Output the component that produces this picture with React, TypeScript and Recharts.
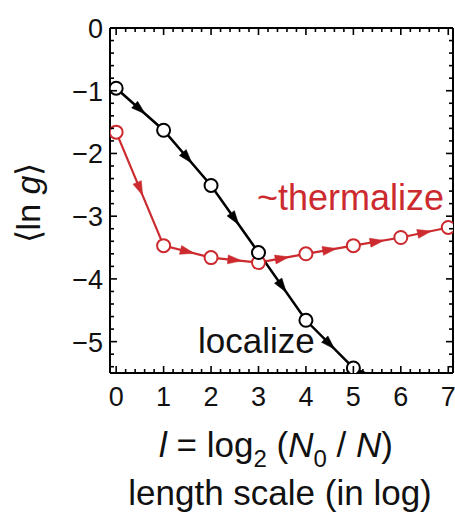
import React from 'react';
import { ComposedChart, Line, Scatter, XAxis, YAxis } from 'recharts';

// length scale l = log2(N0/N)
const steps = [0, 1, 2, 3, 4, 5, 6, 7];
// <ln g> along the flow
const localizeVals = [-0.96, -1.63, -2.51, -3.58, -4.66, -5.42, -5.75];
const thermalizeVals = [-1.66, -3.47, -3.66, -3.74, -3.6, -3.47, -3.34, -3.18];

const xMajor = [0, 1, 2, 3, 4, 5, 6, 7];
const yMajor = [0, -1, -2, -3, -4, -5];

const X_DOMAIN: [number, number] = [-0.13, 7.1];
const Y_DOMAIN: [number, number] = [-5.5, 0];

const W = 455;
const H = 516;
const MARGIN = { top: 0, right: 0, left: 0, bottom: 0 };
const Y_AXIS_W = 110;
const X_AXIS_H = 143;
const TOP_H = 28;
const RIGHT_W = 2;

const RED = '#cc2a2e';
const FONT = '"Liberation Sans", Arial, Helvetica, sans-serif';

// px per data unit, used only to turn the arrowheads along their segments
const KX = (W - Y_AXIS_W - RIGHT_W) / (X_DOMAIN[1] - X_DOMAIN[0]);
const KY = (H - TOP_H - X_AXIS_H) / (Y_DOMAIN[1] - Y_DOMAIN[0]);

const withMinors = (major: number[], lo: number, hi: number) => {
  const out = [...major];
  for (let v = lo; v <= hi + 1e-9; v += 0.2) {
    const r = Math.round(v * 10) / 10;
    if (Math.abs(r - Math.round(r)) > 1e-6) out.push(r);
  }
  return out.sort((a, b) => a - b);
};
const xTicks = withMinors(xMajor, 0, 7);
const yTicks = withMinors(yMajor, -5.4, 0);

const series = (vals: number[]) => vals.map((v, i) => ({ x: steps[i], y: v }));
const localizeData = series(localizeVals);
const thermalizeData = series(thermalizeVals);

const arrowsFor = (vals: number[]) =>
  vals.slice(0, -1)
    .map((v, i) => ({
      x: (steps[i] + steps[i + 1]) / 2,
      y: (v + vals[i + 1]) / 2,
      dx: steps[i + 1] - steps[i],
      dy: vals[i + 1] - v,
    }))
    .filter((a) => a.y >= Y_DOMAIN[0] && a.y <= Y_DOMAIN[1]);

const localizeArrows = arrowsFor(localizeVals);
const thermalizeArrows = arrowsFor(thermalizeVals);

const isMajor = (v: number) => Math.abs(v - Math.round(v)) < 1e-6;

const fmt = (v: number) => (v < 0 ? '\u2212' + Math.abs(v) : String(v));

const FrameTick = (props: any) => {
  const { x, y, payload, side } = props;
  const v = payload.value;
  const major = isMajor(v);
  const len = major ? 7 : 4;
  let d = '';
  let label = null;
  if (side === 'bottom') {
    d = `M${x},${y}V${y - len}`;
    if (major)
      label = (
        <text x={x} y={y + 33} textAnchor="middle" fontSize={27} fontFamily={FONT} fill="#111">
          {fmt(v)}
        </text>
      );
  } else if (side === 'top') {
    d = `M${x},${y}V${y + len}`;
  } else if (side === 'left') {
    d = `M${x},${y}H${x + len}`;
    if (major)
      label = (
        <text x={x - 7} y={y + 10} textAnchor="end" fontSize={27} fontFamily={FONT} fill="#111">
          {fmt(v)}
        </text>
      );
  } else {
    d = `M${x},${y}H${x - len}`;
  }
  return (
    <g>
      <path d={d} stroke="#000" strokeWidth={1.6} fill="none" />
      {label}
    </g>
  );
};

const makeArrow = (color: string) => (props: any) => {
  const { cx, cy, payload } = props;
  if (cx == null || cy == null) return <g />;
  const ang = (Math.atan2(-payload.dy * KY, payload.dx * KX) * 180) / Math.PI;
  return (
    <polygon
      points="7,0 -7,-4.5 -7,4.5"
      fill={color}
      stroke={color}
      strokeWidth={0.5}
      transform={`translate(${cx},${cy}) rotate(${ang})`}
    />
  );
};

const openDot = (color: string) => ({ r: 6.5, fill: '#fff', stroke: color, strokeWidth: 2 });

const axisCommon = {
  type: 'number' as const,
  allowDataOverflow: true,
  interval: 0 as const,
  tickSize: 0,
  tickMargin: 0,
  tickLine: false,
  axisLine: { stroke: '#000', strokeWidth: 2 },
};

export default function App() {
  return (
    <div style={{ position: 'absolute', left: 0, top: 0, width: W, height: H, background: '#fff' }}>
      <ComposedChart width={W} height={H} margin={MARGIN}>
        <XAxis
          {...axisCommon}
          xAxisId="b"
          dataKey="x"
          domain={X_DOMAIN}
          ticks={xTicks}
          height={X_AXIS_H}
          tick={<FrameTick side="bottom" />}
        />
        <XAxis
          {...axisCommon}
          xAxisId="t"
          dataKey="x"
          orientation="top"
          domain={X_DOMAIN}
          ticks={xTicks}
          height={TOP_H}
          tick={<FrameTick side="top" />}
        />
        <YAxis
          {...axisCommon}
          yAxisId="l"
          domain={Y_DOMAIN}
          ticks={yTicks}
          width={Y_AXIS_W}
          tick={<FrameTick side="left" />}
        />
        <YAxis
          {...axisCommon}
          yAxisId="r"
          orientation="right"
          domain={Y_DOMAIN}
          ticks={yTicks}
          width={RIGHT_W}
          tick={<FrameTick side="right" />}
        />

        {/* thermalizing flow: drawn on the top/right frame axes (same scales) */}
        <Line
          xAxisId="t"
          yAxisId="r"
          data={thermalizeData}
          dataKey="y"
          type="linear"
          stroke={RED}
          strokeWidth={2.2}
          dot={openDot(RED)}
          isAnimationActive={false}
        />
        <Scatter
          xAxisId="t"
          yAxisId="r"
          data={thermalizeArrows}
          dataKey="y"
          shape={makeArrow(RED)}
          isAnimationActive={false}
        />
        <Line
          xAxisId="b"
          yAxisId="l"
          data={localizeData}
          dataKey="y"
          type="linear"
          stroke="#000"
          strokeWidth={2.5}
          dot={openDot('#000')}
          isAnimationActive={false}
        />
        <Scatter
          xAxisId="b"
          yAxisId="l"
          data={localizeArrows}
          dataKey="y"
          shape={makeArrow('#000')}
          isAnimationActive={false}
        />

        <text x={257} y={210} fontSize={36} fontFamily={FONT} fill={RED}>
          ~thermalize
        </text>
        <text x={198} y={353} fontSize={35} fontFamily={FONT} fill="#111">
          localize
        </text>

        <text
          x={40}
          y={203}
          transform="rotate(-90, 40, 203)"
          textAnchor="middle"
          fontSize={34}
          fontFamily={FONT}
          fill="#111"
        >
          {'\u27e8ln '}
          <tspan fontStyle="italic">g</tspan>
          {'\u27e9'}
        </text>

        <text x={276} y={457} textAnchor="middle" fontSize={35} fontFamily={FONT} fill="#111">
          <tspan fontStyle="italic">l</tspan>
          <tspan>{' = log'}</tspan>
          <tspan dy={10} fontSize={24}>2</tspan>
          <tspan dy={-10}>{' ('}</tspan>
          <tspan fontStyle="italic">N</tspan>
          <tspan dy={10} fontSize={24}>0</tspan>
          <tspan dy={-10}>{' / '}</tspan>
          <tspan fontStyle="italic">N</tspan>
          <tspan>)</tspan>
        </text>
        <text x={280} y={505} textAnchor="middle" fontSize={35} fontFamily={FONT} fill="#111">
          length scale (in log)
        </text>
      </ComposedChart>
    </div>
  );
}
